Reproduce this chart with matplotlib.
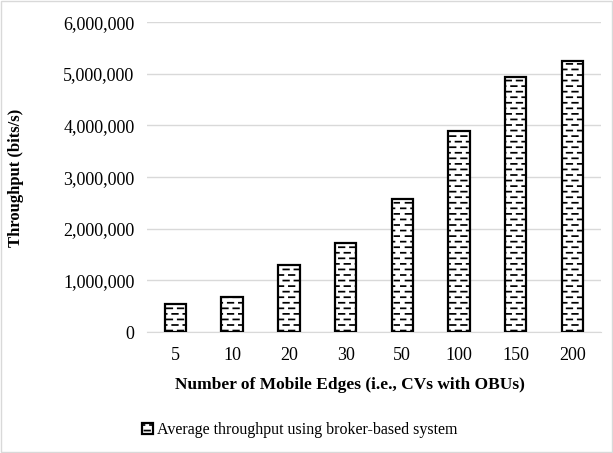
import numpy as np
import matplotlib.pyplot as plt
import matplotlib.ticker as mticker
import matplotlib.hatch as mhatch
from matplotlib.path import Path
from matplotlib.patches import Rectangle

plt.rcParams['font.family'] = ['Liberation Serif', 'DejaVu Serif']
plt.rcParams['hatch.linewidth'] = 1.25

edges = ['5', '10', '20', '30', '50', '100', '150', '200']
throughput = [550000, 680000, 1300000, 1720000, 2580000, 3890000, 4930000, 5240000]


# Excel-like "dashed horizontal" pattern in place of the plain '-' hatch
class DashedHorizontalHatch(mhatch.HatchPatternBase):
    def __init__(self, hatch, density):
        n = hatch.count('-')
        self.rows = 18 * n
        self.cols = 9 * n
        self.num_vertices = self.rows * self.cols * 2

    def set_vertices_and_codes(self, vertices, codes):
        k = 0
        for i in range(self.rows):
            y = (i + 0.5) / self.rows
            shift = 0.5 if i % 2 else 0.0
            for j in range(self.cols):
                x0 = (j + shift) / self.cols
                vertices[k] = (x0, y)
                vertices[k + 1] = (x0 + 0.5 / self.cols, y)
                codes[k] = Path.MOVETO
                codes[k + 1] = Path.LINETO
                k += 2


mhatch._hatch_types = [DashedHorizontalHatch if h is mhatch.HorizontalHatch else h
                       for h in mhatch._hatch_types]

fig = plt.figure(figsize=(6.13, 4.53), dpi=100)
ax = fig.add_axes([0.24, 0.267, 0.74, 0.684])

x = np.arange(len(edges))
ax.bar(x, throughput, width=0.38, color='white', edgecolor='black',
       linewidth=1.6, hatch='-', zorder=3,
       label='Average throughput using broker-based system')

ax.set_ylim(0, 6000000)
ax.set_xlim(-0.5, len(edges) - 0.5)
ax.set_xticks(x)
ax.set_xticklabels(edges)
ax.yaxis.set_major_locator(mticker.MultipleLocator(1000000))
ax.yaxis.set_major_formatter(mticker.FuncFormatter(lambda v, p: f'{int(v):,}'))
ax.grid(axis='y', color='#d9d9d9', linewidth=1, zorder=0)
for s in ['top', 'right', 'left']:
    ax.spines[s].set_visible(False)
ax.spines['bottom'].set_color('#d9d9d9')
ax.tick_params(axis='both', length=0, labelsize=13)
ax.tick_params(axis='x', pad=11)
ax.tick_params(axis='y', pad=9)

fig.text(16 / 613, 1 - 178 / 453, 'Throughput (bits/s)', rotation=90,
         ha='center', va='center', fontsize=12, fontweight='bold')
fig.text(350 / 613, 1 - 385 / 453, 'Number of Mobile Edges (i.e., CVs with OBUs)',
         ha='center', va='center', fontsize=12.5, fontweight='bold')

fig.legend(loc='center', bbox_to_anchor=(300 / 613, 1 - 430 / 453), frameon=False,
           fontsize=11.5, handlelength=0.7, handleheight=0.7, handletextpad=0.25)

fig.patches.append(Rectangle((0.002, 0.002), 0.996, 0.996, transform=fig.transFigure,
                             fill=False, edgecolor='#d9d9d9', linewidth=1))

fig.savefig('out.png', dpi=100)
